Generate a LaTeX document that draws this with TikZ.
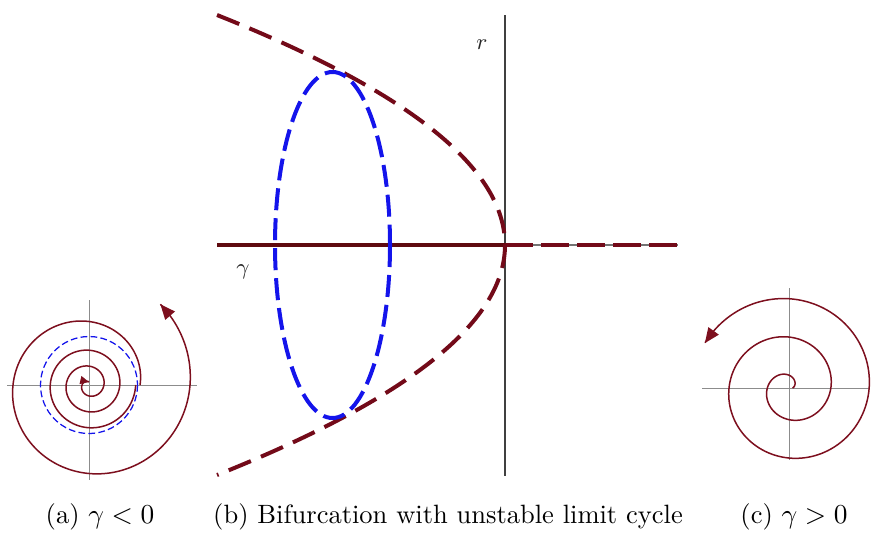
\documentclass[tikz,border=0pt]{standalone}
\usetikzlibrary{arrows.meta}
\definecolor{maroon}{RGB}{115,10,25}
\definecolor{axred}{RGB}{95,10,15}
\definecolor{cycblue}{RGB}{20,20,235}
\definecolor{spiral}{RGB}{125,15,30}
\begin{document}
\begin{tikzpicture}[x=0.4pt,y=-0.4pt,
  branch/.style={maroon, line width=1.6pt, dash pattern=on 9.6pt off 4.4pt},
  limitcyc/.style={cycblue, line width=1.6pt, dash pattern=on 8.8pt off 3.2pt},
  thinaxis/.style={black!45, line width=0.4pt},
  traj/.style={spiral, line width=0.6pt},
  bigtip/.style={-{Triangle[length=6pt,width=5pt]}, spiral, line width=0.6pt},
  smalltip/.style={-{Triangle[length=3.5pt,width=3.2pt]}, spiral, line width=0.6pt},
  lbl/.style={font=\small, text=black!85, inner sep=0pt},
  captext/.style={anchor=base, inner sep=0pt, font=\fontsize{10.6}{13}\selectfont}]
\useasboundingbox (0,0) rectangle (877,534);

% ---------- (b) bifurcation diagram ----------
\coordinate (O) at (505,245);
\coordinate (hL) at (217,245);
\coordinate (hR) at (678,245);
\coordinate (vT) at (505,15);
\coordinate (vB) at (505,476);
\draw[black!55, line width=0.5pt] (O) -- (hR);
\draw[black!75, line width=0.5pt] (vT) -- (vB);
\draw[axred, line width=1.4pt] (hL) -- (O);
\draw[maroon, line width=1.3pt, dash pattern=on 11pt off 3.4pt] (O) -- (hR);
\draw[branch] plot[domain=15:475, samples=150, smooth, variable=\y]
  ({505-((\y-245)/13.553)^2},\y);
\draw[limitcyc] (332.5,245) ellipse [x radius=57.5, y radius=173];
\node[lbl] (rl) at (482,45) {$r$};
\node[lbl] (gl) at (243,272) {$\gamma$};

% ---------- (a) gamma < 0 ----------
\coordinate (ca) at (89,385);
\coordinate (aL) at (7,385);
\coordinate (aR) at (197,385);
\coordinate (aT) at (89,300);
\coordinate (aB) at (89,480);
\draw[thinaxis] (aL) -- (aR);
\draw[thinaxis] (aT) -- (aB);
\draw[cycblue, line width=0.5pt, dash pattern=on 2.7pt off 1.3pt] (ca) circle [radius=48.5];
% outer trajectory, spiralling outward
\draw[traj] plot[domain=0:7.13, samples=200, smooth, variable=\t]
  ({89+(51+7.96*\t)*cos(\t r)},{385-(51+7.96*\t)*sin(\t r)});
\coordinate (oa) at ({89+(51+7.96*7.0)*cos(7.0 r)},{385-(51+7.96*7.0)*sin(7.0 r)});
\coordinate (ob) at ({89+(51+7.96*7.13)*cos(7.13 r)},{385-(51+7.96*7.13)*sin(7.13 r)});
\draw[bigtip] (oa) -- (ob);
% inner trajectory, spiralling inward
\draw[traj] plot[domain=0:17.28, samples=300, smooth, variable=\t]
  ({89+(46.7-2.53*\t)*cos(\t r)},{385+(46.7-2.53*\t)*sin(\t r)});
\coordinate (ia) at ({89+(46.7-2.53*16.6)*cos(16.6 r)},{385+(46.7-2.53*16.6)*sin(16.6 r)});
\coordinate (ib) at ({89+(46.7-2.53*17.28)*cos(17.28 r)},{385+(46.7-2.53*17.28)*sin(17.28 r)});
\draw[smalltip] (ia) -- (ib);

% ---------- (c) gamma > 0 ----------
\coordinate (cc) at (789.5,388);
\coordinate (cL) at (702,388);
\coordinate (cR) at (870,388);
\coordinate (cT) at (789.5,288);
\coordinate (cB) at (789.5,460);
\draw[thinaxis] (cL) -- (cR);
\draw[thinaxis] (cT) -- (cB);
\draw[traj] plot[domain=0:15.22, samples=300, smooth, variable=\t]
  ({789.5+(3+6.1*\t)*cos(\t r)},{388-(3+6.1*\t)*sin(\t r)});
\coordinate (ra) at ({789.5+(3+6.1*15.08)*cos(15.08 r)},{388-(3+6.1*15.08)*sin(15.08 r)});
\coordinate (rb) at ({789.5+(3+6.1*15.22)*cos(15.22 r)},{388-(3+6.1*15.22)*sin(15.22 r)});
\draw[bigtip] (ra) -- (rb);

% ---------- captions ----------
\node[captext] (capa) at (100,523) {(a) $\gamma<0$};
\node[captext] (capb) at (448,523) {(b) Bifurcation with unstable limit cycle};
\node[captext] (capc) at (794,523) {(c) $\gamma>0$};
\end{tikzpicture}
\end{document}
